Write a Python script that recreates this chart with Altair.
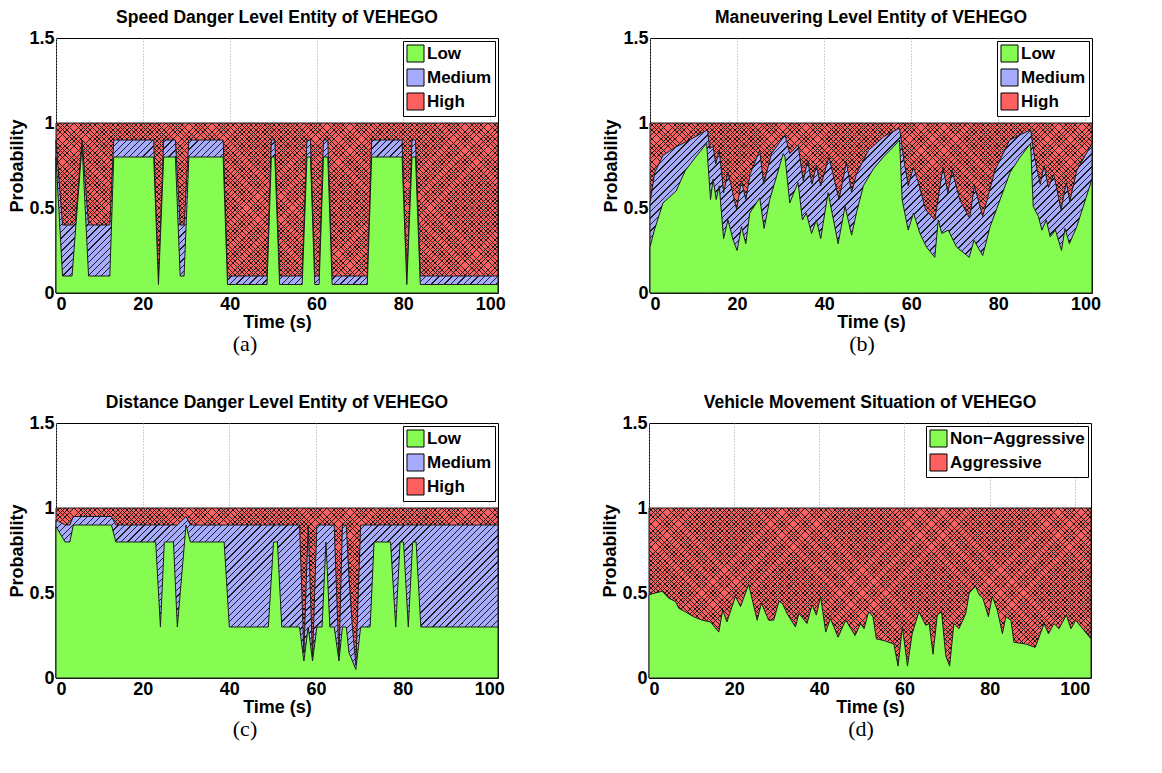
import altair as alt
import pandas as pd

# ---------------- data ----------------
# (a) Speed danger level: time, top of "Low", top of "Low+Medium"
A_T = [0, 1.5, 3.7, 4.5, 6, 7.5, 12.4, 13.3, 22.5, 23.6, 24.8, 27.5, 28.6, 29.5, 30.6,
       38.5, 39.5, 48.6, 49.6, 50.4, 51.5, 56.7, 57.8, 58.6, 59.6, 60.6, 61.6, 62.6,
       63.6, 71.7, 72.7, 79.7, 80.8, 82.0, 82.8, 83.9, 101.8]
A_LOW = [0.80, 0.10, 0.10, 0.37, 0.87, 0.10, 0.10, 0.80, 0.80, 0.05, 0.80, 0.80, 0.10, 0.10, 0.80,
         0.80, 0.05, 0.05, 0.80, 0.80, 0.05, 0.05, 0.80, 0.80, 0.05, 0.05, 0.80, 0.80,
         0.05, 0.05, 0.80, 0.80, 0.05, 0.80, 0.80, 0.05, 0.05]
A_TOP = [0.90, 0.40, 0.40, 0.42, 0.90, 0.40, 0.40, 0.90, 0.90, 0.05, 0.90, 0.90, 0.40, 0.40, 0.90,
         0.90, 0.10, 0.10, 0.90, 0.90, 0.10, 0.10, 0.90, 0.90, 0.10, 0.10, 0.90, 0.90,
         0.10, 0.10, 0.90, 0.90, 0.05, 0.90, 0.90, 0.10, 0.10]

# (b) Maneuvering level: "Low" boundary and "Low+Medium" boundary
B_LOW_T = [0, 1, 3, 4.3, 6, 8.1, 10.5, 13, 13.9, 14.5, 15.2, 15.9, 16.9, 17.9, 19.1, 20, 21, 22,
           22.9, 25.2, 26.2, 27.5, 30.6, 31, 32.1, 34, 35, 35.9, 37.1, 38.2, 39.2, 40.9, 43.2,
           44.8, 46.3, 47.4, 49, 51.3, 53.6, 55.9, 57.3, 57.9, 58.5, 59.3, 60.5, 62, 63.5, 65.4,
           66.2, 67, 68.5, 70.4, 73.3, 74.4, 76.4, 78.1, 80.4, 82.7, 85, 87.4, 88, 89.2, 90, 91,
           91.9, 93.1, 94.5, 95.3, 96.3, 98, 101.5]
B_LOW = [0.27, 0.37, 0.53, 0.56, 0.60, 0.72, 0.80, 0.88, 0.55, 0.67, 0.55, 0.63, 0.32, 0.43, 0.31,
         0.25, 0.39, 0.29, 0.47, 0.56, 0.38, 0.55, 0.82, 0.80, 0.53, 0.65, 0.43, 0.47, 0.35, 0.43,
         0.32, 0.59, 0.29, 0.51, 0.34, 0.47, 0.63, 0.73, 0.80, 0.86, 0.90, 0.55, 0.47, 0.37, 0.47,
         0.35, 0.27, 0.21, 0.43, 0.35, 0.37, 0.27, 0.21, 0.31, 0.22, 0.39, 0.55, 0.71, 0.80, 0.88,
         0.51, 0.45, 0.37, 0.43, 0.33, 0.37, 0.25, 0.38, 0.29, 0.39, 0.67]
B_TOP_T = [0, 1.1, 3, 6, 9.1, 13.2, 13.7, 14.5, 15.1, 15.9, 16.9, 17.9, 19.9, 21, 22, 23, 25.2,
           26.1, 27.9, 31, 32.1, 34, 35.2, 36.2, 37.2, 38.2, 39.2, 41.1, 43.4, 45.1, 46.3, 47.4,
           50.2, 53.7, 57.3, 58.2, 59.3, 60.5, 61.5, 63.3, 65.4, 67.3, 68.4, 69.4, 71.1, 73.4,
           74.5, 76.4, 79.2, 82.6, 87.4, 88.3, 89.6, 90.5, 91.5, 92.7, 94.4, 95.6, 96.4, 98, 101.5]
B_TOP = [0.53, 0.71, 0.81, 0.86, 0.90, 0.96, 0.85, 0.86, 0.76, 0.84, 0.59, 0.71, 0.49, 0.66, 0.55,
         0.70, 0.84, 0.64, 0.82, 0.93, 0.82, 0.87, 0.66, 0.78, 0.64, 0.75, 0.63, 0.80, 0.55, 0.77,
         0.59, 0.70, 0.84, 0.92, 0.97, 0.80, 0.63, 0.74, 0.66, 0.49, 0.43, 0.74, 0.59, 0.72, 0.55,
         0.44, 0.63, 0.45, 0.72, 0.90, 0.96, 0.80, 0.64, 0.75, 0.62, 0.70, 0.49, 0.65, 0.54, 0.72,
         0.88]

# (c) Distance danger level: time, top of "Low", top of "Low+Medium"
C_T = [0, 2.1, 3.2, 4, 12.8, 13.8, 23, 24.1, 25, 27.1, 28, 30, 31, 38.8, 40, 49, 50.2, 51.1, 52.1,
       56.2, 57.2, 58.2, 59.2, 60.2, 61.4, 62.3, 63.2, 64.2, 65.3, 66.1, 67, 67.6, 68.4, 69.2,
       70.3, 72.5, 73.4, 77.2, 78.4, 79.4, 80.2, 81.3, 82.3, 83.1, 84.2, 102]
C_LOW = [0.89, 0.80, 0.80, 0.90, 0.90, 0.80, 0.80, 0.30, 0.80, 0.80, 0.30, 0.90, 0.80, 0.80, 0.30,
         0.30, 0.80, 0.80, 0.30, 0.30, 0.10, 0.30, 0.10, 0.30, 0.30, 0.80, 0.30, 0.30, 0.10, 0.30,
         0.30, 0.15, 0.10, 0.05, 0.30, 0.30, 0.80, 0.80, 0.30, 0.80, 0.80, 0.30, 0.80, 0.80, 0.30,
         0.30]
C_TOP = [0.93, 0.90, 0.90, 0.95, 0.95, 0.90, 0.90, 0.90, 0.90, 0.90, 0.90, 0.95, 0.90, 0.90, 0.90,
         0.90, 0.90, 0.90, 0.90, 0.90, 0.15, 0.90, 0.12, 0.90, 0.90, 0.90, 0.90, 0.90, 0.12, 0.90,
         0.90, 0.60, 0.30, 0.08, 0.90, 0.90, 0.90, 0.90, 0.90, 0.90, 0.90, 0.90, 0.90, 0.90, 0.90,
         0.90]

# (d) Vehicle movement situation: time, probability of "Non-Aggressive"
D_T = [0, 1.5, 3.1, 4.6, 6.2, 7, 8.5, 10.5, 12.5, 14.4, 16.4, 17.3, 18.3, 20.3, 21.5, 23.4, 25.4,
       26.4, 28.1, 29.3, 30.5, 31.3, 32.4, 34.4, 35.2, 37.1, 38.3, 39.3, 40.3, 41.5, 42.6, 44.4,
       46.2, 48.4, 49.7, 50.5, 51.6, 52.6, 53.4, 55.2, 57.5, 58.5, 59.5, 60.7, 61.8, 63.4, 65,
       65.8, 66.7, 67.7, 68.7, 69.7, 70.6, 71.6, 72.8, 74.4, 75.2, 76.7, 77.5, 78.4, 79.7, 80.6,
       81.8, 83, 83.8, 85, 85.7, 88.5, 90.7, 92.8, 93.8, 95.1, 96.3, 98, 99.1, 100.2, 103.8]
D_NONAGG = [0.49, 0.50, 0.51, 0.47, 0.45, 0.41, 0.39, 0.36, 0.34, 0.33, 0.27, 0.40, 0.33, 0.48,
            0.42, 0.55, 0.34, 0.44, 0.34, 0.34, 0.45, 0.44, 0.38, 0.30, 0.38, 0.32, 0.43, 0.37,
            0.48, 0.27, 0.35, 0.24, 0.34, 0.25, 0.32, 0.29, 0.39, 0.36, 0.23, 0.22, 0.20, 0.07,
            0.30, 0.07, 0.26, 0.39, 0.31, 0.32, 0.14, 0.37, 0.39, 0.13, 0.07, 0.32, 0.29, 0.38,
            0.50, 0.54, 0.49, 0.47, 0.36, 0.48, 0.40, 0.26, 0.36, 0.34, 0.21, 0.20, 0.18, 0.32,
            0.26, 0.32, 0.29, 0.37, 0.29, 0.34, 0.23]

TITLES = ["Speed Danger Level Entity of VEHEGO", "Maneuvering Level Entity of VEHEGO",
          "Distance Danger Level Entity of VEHEGO", "Vehicle Movement Situation of VEHEGO"]
CAPTIONS = ["(a)", "(b)", "(c)", "(d)"]
LEVELS = ["Low", "Medium", "High"]
SITUATIONS = ["Non\u2212Aggressive", "Aggressive"]
X_TICKS = [0, 20, 40, 60, 80, 100]
Y_TICKS = [0, 0.5, 1, 1.5]

# ---------------- style ----------------
FONT = "Liberation Sans"
SERIF = "Liberation Serif"
PW, PH = 442, 255
YMAX = 1.5
GREEN = "#86fc52"
BLUE = "#a6abfd"
RED = "#fd6060"
INK = "#1c1c1c"
CLEAR = "rgba(0,0,0,0)"


def hatch(bg, ink, period, lw, W, H, direction):
    """Linear gradient with hard stops that draws 45-degree hatch lines."""
    L = W + H
    k = L * W / (W * W + H * H)
    thick = lw * 2 ** 0.5
    stops = []
    i = 0
    while i * period < L:
        a = round(i * period / L, 5)
        b = round(min((i * period + period - thick) / L, 1.0), 5)
        c = round(min((i + 1) * period / L, 1.0), 5)
        stops += [{"offset": a, "color": bg}, {"offset": b, "color": bg},
                  {"offset": b, "color": ink}, {"offset": c, "color": ink}]
        i += 1
    if direction == "/":
        x1, y1, x2, y2 = 0, 0, k, k * H / W
    else:
        x1, y1, x2, y2 = 0, 1, k, 1 - k * H / W
    return {"gradient": "linear", "stops": stops, "x1": x1, "y1": y1, "x2": x2, "y2": y2}


def panel(title, caption, cap_x, xmax, green_t, green_v, blue_t, blue_v, labels, colors, key):
    x_enc = alt.X("t:Q", scale=alt.Scale(domain=[0, xmax], nice=False, zero=False),
                  axis=alt.Axis(values=X_TICKS, title="Time (s)", grid=True,
                                gridDash=[1, 2], gridColor="#a0a0a0", gridWidth=1))
    y_enc = alt.Y("v:Q", scale=alt.Scale(domain=[0, YMAX], nice=False),
                  axis=alt.Axis(values=Y_TICKS, format="~g", title="Probability", grid=False))
    red_df = pd.DataFrame({"t": [0, xmax], "v": [1.0, 1.0]})
    red_h = 1.0 / YMAX * PH
    layers = [
        alt.Chart(red_df).mark_area(fill=hatch(RED, INK, 4.6, 0.7, PW, red_h, "/"),
                                    stroke=INK, strokeWidth=1).encode(x=x_enc, y=y_enc),
        alt.Chart(red_df).mark_area(fill=hatch(CLEAR, INK, 4.6, 0.7, PW, red_h, "\\"))
        .encode(x="t:Q", y="v:Q"),
    ]
    if blue_t is not None:
        blue_df = pd.DataFrame({"t": blue_t, "v": blue_v})
        blue_h = max(blue_v) / YMAX * PH
        layers.append(alt.Chart(blue_df).mark_area(
            fill=hatch(BLUE, INK, 6.5, 0.8, PW, blue_h, "/"), stroke=INK, strokeWidth=1)
            .encode(x="t:Q", y="v:Q"))
    green_df = pd.DataFrame({"t": green_t, "v": green_v})
    layers.append(alt.Chart(green_df).mark_area(fill=GREEN, stroke=INK, strokeWidth=1)
                  .encode(x="t:Q", y="v:Q"))
    leg_df = pd.DataFrame({key: labels})
    layers.append(alt.Chart(leg_df).mark_point(filled=True, opacity=0).encode(
        color=alt.Color(f"{key}:N", scale=alt.Scale(domain=labels, range=colors),
                        legend=alt.Legend(title=None, orient="top-right", offset=3,
                                          symbolType="square", symbolSize=290,
                                          symbolOpacity=1, symbolStrokeColor="black",
                                          symbolStrokeWidth=1, fillColor="white",
                                          strokeColor="black", padding=3, rowPadding=1,
                                          labelOffset=2, labelFont=FONT, labelFontSize=17,
                                          labelFontWeight="bold", labelColor="black"))))
    cap_df = pd.DataFrame({"c": [caption]})
    layers.append(alt.Chart(cap_df).mark_text(font=SERIF, fontSize=22, baseline="middle",
                                              align="center", color="black")
                  .encode(x=alt.value(cap_x), y=alt.value(PH + 51), text="c:N"))
    return alt.layer(*layers).properties(
        width=PW, height=PH,
        title=alt.Title(title, font=FONT, fontSize=17.5, fontWeight="bold", color="black",
                        offset=3, anchor="middle"))


pa = panel(TITLES[0], CAPTIONS[0], 189, 101.8, A_T, A_LOW, A_T, A_TOP,
           LEVELS, [GREEN, BLUE, RED], "speed")
pb = panel(TITLES[1], CAPTIONS[1], 212, 101.5, B_LOW_T, B_LOW, B_TOP_T, B_TOP,
           LEVELS, [GREEN, BLUE, RED], "maneuver")
pc = panel(TITLES[2], CAPTIONS[2], 189, 102.0, C_T, C_LOW, C_T, C_TOP,
           LEVELS, [GREEN, BLUE, RED], "distance")
pd_ = panel(TITLES[3], CAPTIONS[3], 212, 103.8, D_T, D_NONAGG, None, None,
            SITUATIONS, [GREEN, RED], "movement")

row1 = (alt.hconcat(pa, pb, spacing=96)
        .resolve_scale(color="independent", x="independent", y="independent")
        .resolve_legend(color="independent"))
row2 = (alt.hconcat(pc, pd_, spacing=96)
        .resolve_scale(color="independent", x="independent", y="independent")
        .resolve_legend(color="independent"))

chart = (alt.vconcat(row1, row2, spacing=37)
         .resolve_scale(color="independent", x="independent", y="independent")
         .resolve_legend(color="independent")
         .properties(padding={"left": 0, "top": 0, "right": 4, "bottom": 4})
         .configure_view(stroke="black", strokeWidth=1)
         .configure_axis(labelFont=FONT, labelFontSize=18, labelFontWeight="bold",
                         labelColor="black", titleFont=FONT, titleFontSize=18,
                         titleFontWeight="bold", titleColor="black", ticks=False,
                         domain=False, labelPadding=2)
         .configure_axisX(titlePadding=0)
         .configure_axisY(titlePadding=2))

chart.save("out.html", embed_options={"renderer": "svg", "actions": False})
